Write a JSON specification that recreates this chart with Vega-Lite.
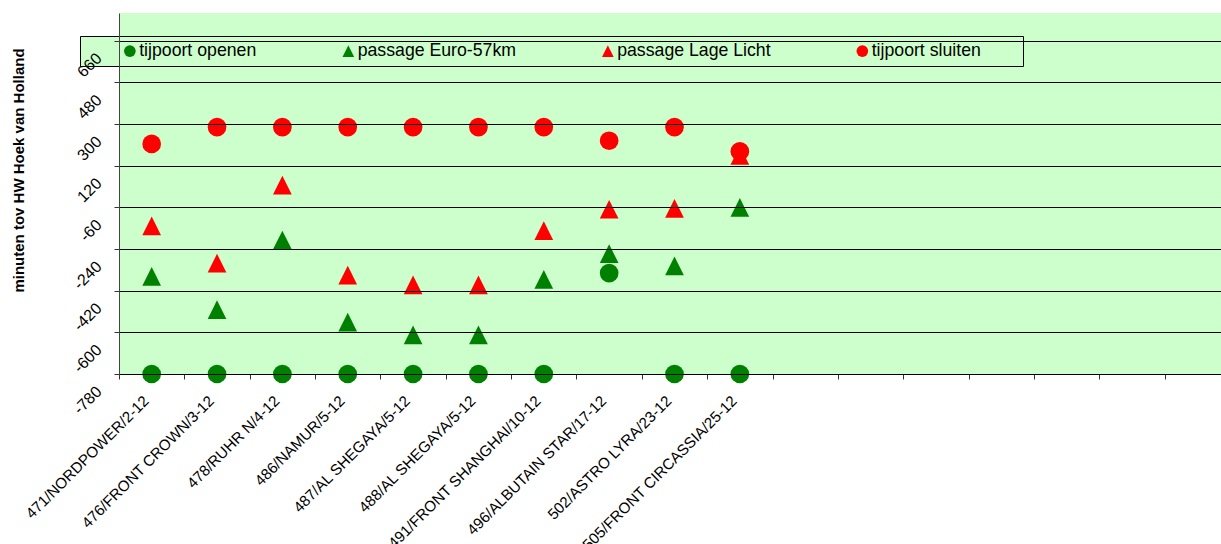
{
  "$schema": "https://vega.github.io/schema/vega-lite/v6.json",
  "width": 1102,
  "height": 361,
  "autosize": {"type": "none"},
  "padding": {"left": 119, "top": 13, "right": 0, "bottom": 170},
  "background": "white",
  "config": {"view": {"stroke": null, "fill": "#CCFFCC"}, "font": "Liberation Sans"},
  "data": {"values": [
    {"schip": "471/NORDPOWER/2-12", "serie": "tijpoort openen", "minuten": -780},
    {"schip": "476/FRONT CROWN/3-12", "serie": "tijpoort openen", "minuten": -780},
    {"schip": "478/RUHR N/4-12", "serie": "tijpoort openen", "minuten": -780},
    {"schip": "486/NAMUR/5-12", "serie": "tijpoort openen", "minuten": -780},
    {"schip": "487/AL SHEGAYA/5-12", "serie": "tijpoort openen", "minuten": -780},
    {"schip": "488/AL SHEGAYA/5-12", "serie": "tijpoort openen", "minuten": -780},
    {"schip": "491/FRONT SHANGHAI/10-12", "serie": "tijpoort openen", "minuten": -780},
    {"schip": "496/ALBUTAIN STAR/17-12", "serie": "tijpoort openen", "minuten": -344},
    {"schip": "502/ASTRO LYRA/23-12", "serie": "tijpoort openen", "minuten": -780},
    {"schip": "505/FRONT CIRCASSIA/25-12", "serie": "tijpoort openen", "minuten": -780},
    {"schip": "471/NORDPOWER/2-12", "serie": "passage Euro-57km", "minuten": -358},
    {"schip": "476/FRONT CROWN/3-12", "serie": "passage Euro-57km", "minuten": -502},
    {"schip": "478/RUHR N/4-12", "serie": "passage Euro-57km", "minuten": -201},
    {"schip": "486/NAMUR/5-12", "serie": "passage Euro-57km", "minuten": -556},
    {"schip": "487/AL SHEGAYA/5-12", "serie": "passage Euro-57km", "minuten": -611},
    {"schip": "488/AL SHEGAYA/5-12", "serie": "passage Euro-57km", "minuten": -611},
    {"schip": "491/FRONT SHANGHAI/10-12", "serie": "passage Euro-57km", "minuten": -371},
    {"schip": "496/ALBUTAIN STAR/17-12", "serie": "passage Euro-57km", "minuten": -260},
    {"schip": "502/ASTRO LYRA/23-12", "serie": "passage Euro-57km", "minuten": -313},
    {"schip": "505/FRONT CIRCASSIA/25-12", "serie": "passage Euro-57km", "minuten": -60},
    {"schip": "471/NORDPOWER/2-12", "serie": "passage Lage Licht", "minuten": -140},
    {"schip": "476/FRONT CROWN/3-12", "serie": "passage Lage Licht", "minuten": -301},
    {"schip": "478/RUHR N/4-12", "serie": "passage Lage Licht", "minuten": 36},
    {"schip": "486/NAMUR/5-12", "serie": "passage Lage Licht", "minuten": -353},
    {"schip": "487/AL SHEGAYA/5-12", "serie": "passage Lage Licht", "minuten": -395},
    {"schip": "488/AL SHEGAYA/5-12", "serie": "passage Lage Licht", "minuten": -395},
    {"schip": "491/FRONT SHANGHAI/10-12", "serie": "passage Lage Licht", "minuten": -160},
    {"schip": "496/ALBUTAIN STAR/17-12", "serie": "passage Lage Licht", "minuten": -68},
    {"schip": "502/ASTRO LYRA/23-12", "serie": "passage Lage Licht", "minuten": -64},
    {"schip": "505/FRONT CIRCASSIA/25-12", "serie": "passage Lage Licht", "minuten": 165},
    {"schip": "471/NORDPOWER/2-12", "serie": "tijpoort sluiten", "minuten": 214},
    {"schip": "476/FRONT CROWN/3-12", "serie": "tijpoort sluiten", "minuten": 287},
    {"schip": "478/RUHR N/4-12", "serie": "tijpoort sluiten", "minuten": 287},
    {"schip": "486/NAMUR/5-12", "serie": "tijpoort sluiten", "minuten": 287},
    {"schip": "487/AL SHEGAYA/5-12", "serie": "tijpoort sluiten", "minuten": 287},
    {"schip": "488/AL SHEGAYA/5-12", "serie": "tijpoort sluiten", "minuten": 287},
    {"schip": "491/FRONT SHANGHAI/10-12", "serie": "tijpoort sluiten", "minuten": 287},
    {"schip": "496/ALBUTAIN STAR/17-12", "serie": "tijpoort sluiten", "minuten": 228},
    {"schip": "502/ASTRO LYRA/23-12", "serie": "tijpoort sluiten", "minuten": 287},
    {"schip": "505/FRONT CIRCASSIA/25-12", "serie": "tijpoort sluiten", "minuten": 182}
  ]},
  "mark": {"type": "point", "filled": true, "opacity": 1, "size": 350, "strokeWidth": 0},
  "encoding": {
    "x": {
      "field": "schip", "type": "nominal", "sort": null,
      "scale": {
        "type": "band",
        "domain": ["471/NORDPOWER/2-12", "476/FRONT CROWN/3-12", "478/RUHR N/4-12", "486/NAMUR/5-12", "487/AL SHEGAYA/5-12", "488/AL SHEGAYA/5-12", "491/FRONT SHANGHAI/10-12", "496/ALBUTAIN STAR/17-12", "502/ASTRO LYRA/23-12", "505/FRONT CIRCASSIA/25-12", "_11", "_12", "_13", "_14", "_15", "_16", "_17"],
        "range": [0, 1111],
        "paddingInner": 0, "paddingOuter": 0
      },
      "axis": {
        "title": null, "labelAngle": -45, "labelAlign": "right", "labelBaseline": "top",
        "labelFontSize": 15.2, "labelPadding": 14, "labelOffset": -11, "labelColor": "black",
        "labelLimit": 400, "labelOverlap": false,
        "labelExpr": "indexof(datum.label, '/') >= 0 ? datum.label : ''",
        "tickBand": "extent", "tickSize": 5, "tickColor": "#333", "domainColor": "#333", "grid": false
      }
    },
    "y": {
      "field": "minuten", "type": "quantitative",
      "scale": {"domain": [-780, 780], "nice": false, "zero": false},
      "axis": {
        "title": "minuten tov HW Hoek van Holland", "titleFontSize": 15, "titleFontWeight": "bold",
        "titleAngle": -90, "titleX": -96, "titleY": 157, "titleAlign": "center", "titleBaseline": "alphabetic", "titleColor": "black",
        "values": [-780, -600, -420, -240, -60, 120, 300, 480, 660],
        "labelExpr": "replace(datum.label, '−', '-')",
        "labelAngle": -45, "labelAlign": "right", "labelBaseline": "top",
        "labelFontSize": 16, "labelPadding": 21, "labelOffset": 9, "labelColor": "black",
        "tickSize": 5, "tickColor": "#333", "domainColor": "#444",
        "grid": true, "gridColor": "black", "gridOpacity": 1, "gridWidth": 1,
        "zindex": 2
      }
    },
    "color": {
      "field": "serie", "type": "nominal",
      "scale": {"domain": ["tijpoort openen", "passage Euro-57km", "passage Lage Licht", "tijpoort sluiten"], "range": ["#008000", "#008000", "#FF0000", "#FF0000"]},
      "legend": {
        "orient": "none", "legendX": -39, "legendY": 23, "direction": "horizontal", "columns": 4,
        "title": " ", "titleOrient": "right", "titleFontSize": 1, "titlePadding": 36,
        "labelFontSize": 17.7, "labelColor": "black", "labelLimit": 400,
        "symbolSize": 137, "symbolOffset": 35, "labelOffset": 0.5, "columnPadding": 47.5,
        "padding": 6, "strokeColor": "black", "fillColor": "#CCFFCC", "symbolStrokeWidth": 0, "cornerRadius": 0,
        "zindex": 1
      }
    },
    "shape": {
      "field": "serie", "type": "nominal",
      "scale": {"domain": ["tijpoort openen", "passage Euro-57km", "passage Lage Licht", "tijpoort sluiten"], "range": ["circle", "M-1,1L0,-1L1,1Z", "M-1,1L0,-1L1,1Z", "circle"]}
    }
  }
}
